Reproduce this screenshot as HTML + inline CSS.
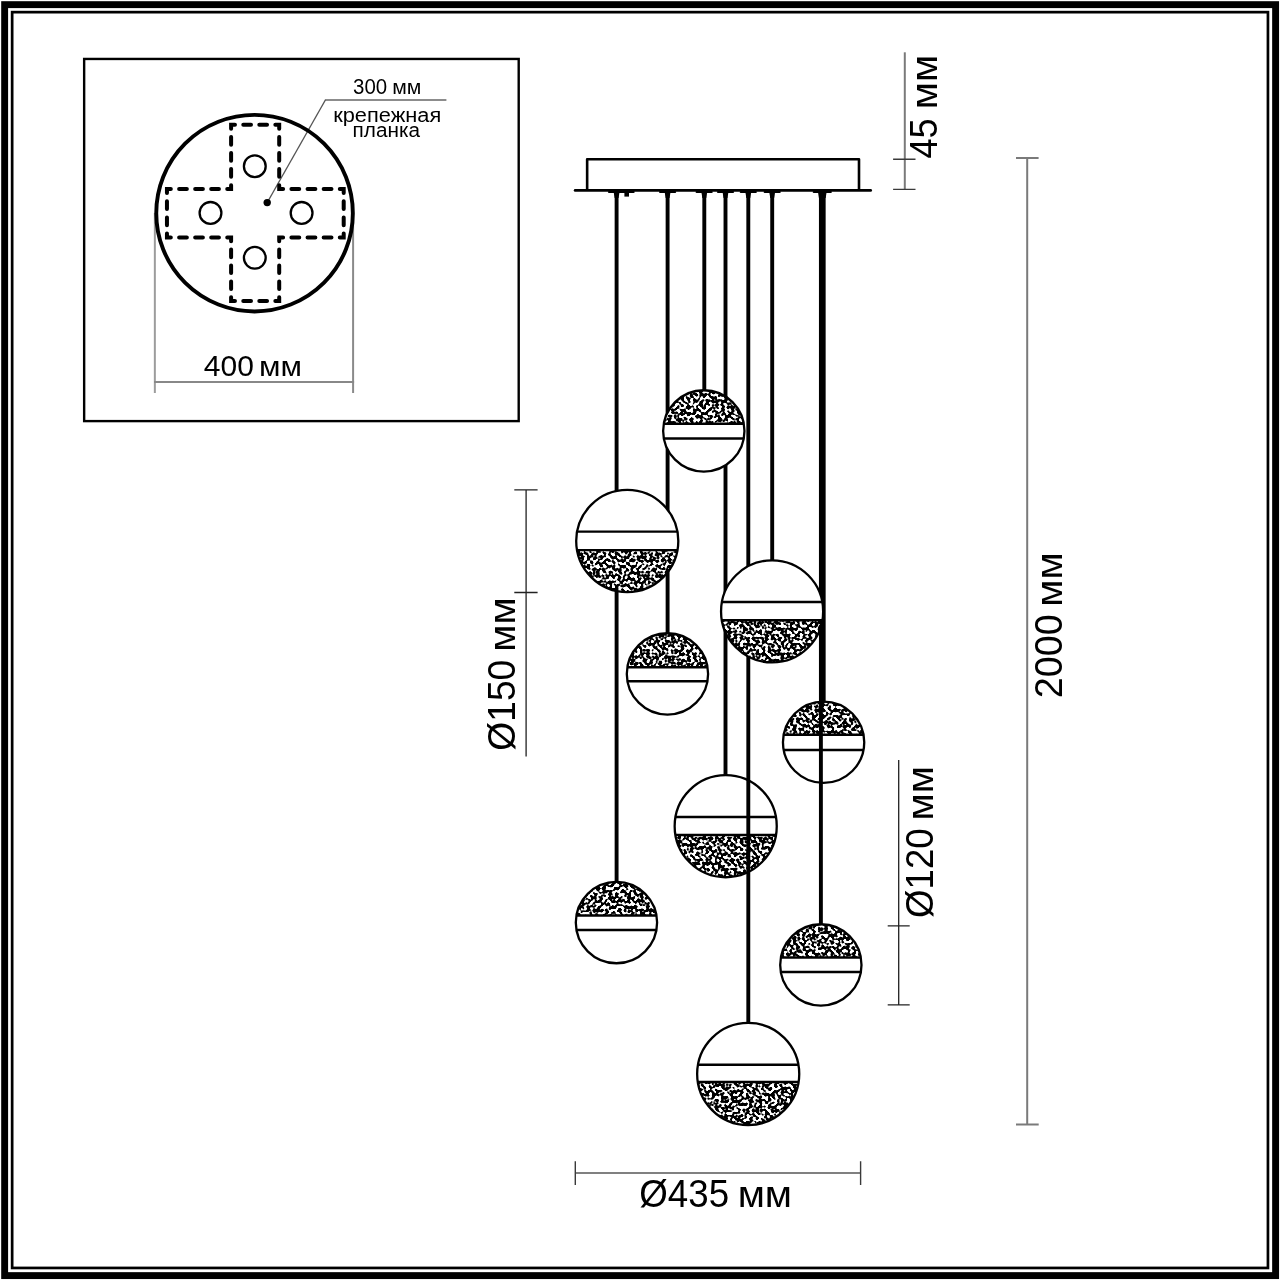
<!DOCTYPE html>
<html lang="ru">
<head>
<meta charset="utf-8">
<title>Схема светильника</title>
<style>
html,body{margin:0;padding:0;background:#fff;}
body{width:1280px;height:1280px;overflow:hidden;}
svg{display:block;will-change:transform;}
text{font-family:"Liberation Sans", "DejaVu Sans", sans-serif;fill:#000;}
</style>
</head>
<body>
<svg width="1280" height="1280" viewBox="0 0 1280 1280" role="img" aria-label="Схема подвесного светильника с размерами">
<defs><filter id="spk" x="0" y="0" width="100%" height="100%" color-interpolation-filters="sRGB"><feTurbulence type="fractalNoise" baseFrequency="0.32" numOctaves="1" seed="7"/><feColorMatrix type="matrix" values="0 0 0 0 0  0 0 0 0 0  0 0 0 0 0  11 0 0 0 -4.8"/></filter></defs>
<rect width="1280" height="1280" fill="#fff"/>
<!-- frame -->
<rect x="4.65" y="4.65" width="1270.95" height="1270.95" fill="none" stroke="#000" stroke-width="6.9"/>
<rect x="12.15" y="12.15" width="1255.8" height="1255.8" fill="none" stroke="#000" stroke-width="2.7"/>
<!-- inset: mounting plate -->
<rect x="84.15" y="58.95" width="434.55" height="362.15" fill="none" stroke="#000" stroke-width="2.4"/>
<g fill="none" stroke-width="2"><path d="M154.85 213V393" stroke="#9c9c9c"/><path d="M353.1 213V393" stroke="#8a8a8a"/><path d="M154 382H354.1" stroke="#888"/><path d="M325.3 100.05H446.4" stroke="#8c8c8c" stroke-width="1.9"/><path d="M267.2 202.6L325.6 99.6" stroke="#555" stroke-width="1.2"/></g>
<circle cx="254.55" cy="213.15" r="98.3" fill="none" stroke="#000" stroke-width="3.9"/>
<path d="M231.1 128.72L231.1 124.85L234.97 124.85M243.27 124.85L251 124.85M259.3 124.85L267.03 124.85M275.33 124.85L279.2 124.85L279.2 128.72M279.2 137.02L279.2 144.76M279.2 153.06L279.2 160.79M279.2 169.09L279.2 176.83M279.2 185.13L279.2 189L283.11 189M291.41 189L299.24 189M307.54 189L315.36 189M323.66 189L331.49 189M339.79 189L343.7 189L343.7 192.93M343.7 201.23L343.7 209.1M343.7 217.4L343.7 225.27M343.7 233.57L343.7 237.5L339.79 237.5M331.49 237.5L323.66 237.5M315.36 237.5L307.54 237.5M299.24 237.5L291.41 237.5M283.11 237.5L279.2 237.5L279.2 241.3M279.2 249.6L279.2 257.2M279.2 265.5L279.2 273.1M279.2 281.4L279.2 289M279.2 297.3L279.2 301.1L275.33 301.1M267.03 301.1L259.3 301.1M251 301.1L243.27 301.1M234.97 301.1L231.1 301.1L231.1 297.3M231.1 289L231.1 281.4M231.1 273.1L231.1 265.5M231.1 257.2L231.1 249.6M231.1 241.3L231.1 237.5L227.23 237.5M218.93 237.5L211.19 237.5M202.89 237.5L195.16 237.5M186.86 237.5L179.12 237.5M170.82 237.5L166.95 237.5L166.95 233.57M166.95 225.27L166.95 217.4M166.95 209.1L166.95 201.23M166.95 192.93L166.95 189L170.82 189M179.12 189L186.86 189M195.16 189L202.89 189M211.19 189L218.93 189M227.23 189L231.1 189L231.1 185.13M231.1 176.83L231.1 169.09M231.1 160.79L231.1 153.06M231.1 144.76L231.1 137.02" fill="none" stroke="#000" stroke-width="4.0" stroke-linecap="round" stroke-linejoin="miter"/>
<g fill="none" stroke="#000" stroke-width="2.3"><circle cx="254.8" cy="166.2" r="10.9"/><circle cx="210.5" cy="212.9" r="10.9"/><circle cx="301.6" cy="212.9" r="10.9"/><circle cx="254.8" cy="257.8" r="10.9"/></g>
<circle cx="267.2" cy="202.6" r="3.7" fill="#000"/>
<text x="353.08" y="94.3"><tspan font-size="21.2" textLength="34.1" lengthAdjust="spacingAndGlyphs">300</tspan><tspan dx="-0.86" font-size="19.6" textLength="35.05" lengthAdjust="spacingAndGlyphs"> мм</tspan></text>
<text x="333.18" y="121.7" font-size="19.6" textLength="108.04" lengthAdjust="spacingAndGlyphs">крепежная</text>
<text x="352.55" y="136.9" font-size="19.6" textLength="67.43" lengthAdjust="spacingAndGlyphs">планка</text>
<text x="203.8" y="376.2"><tspan font-size="29.5" textLength="50.05" lengthAdjust="spacingAndGlyphs">400</tspan><tspan dx="-3.47" font-size="27.9" textLength="51.64" lengthAdjust="spacingAndGlyphs"> мм</tspan></text>
<!-- canopy -->
<path d="M587.15 190V159.3H859V190" fill="none" stroke="#000" stroke-width="2.6" stroke-linejoin="round"/>
<line x1="575.2" y1="190.4" x2="870.6" y2="190.4" stroke="#000" stroke-width="2.9" stroke-linecap="round"/>
<line x1="609" y1="192" x2="633.6" y2="192" stroke="#000" stroke-width="2.2" stroke-linecap="round"/><line x1="660.1" y1="192" x2="675.1" y2="192" stroke="#000" stroke-width="2.2" stroke-linecap="round"/><line x1="696.65" y1="192" x2="711.65" y2="192" stroke="#000" stroke-width="2.2" stroke-linecap="round"/><line x1="718" y1="192" x2="733" y2="192" stroke="#000" stroke-width="2.2" stroke-linecap="round"/><line x1="740.8" y1="192" x2="755.8" y2="192" stroke="#000" stroke-width="2.2" stroke-linecap="round"/><line x1="764.7" y1="192" x2="779.7" y2="192" stroke="#000" stroke-width="2.2" stroke-linecap="round"/><line x1="813.8" y1="192" x2="830.8" y2="192" stroke="#000" stroke-width="2.2" stroke-linecap="round"/><rect x="624.4" y="192" width="4.6" height="4.6" fill="#000"/><path d="M613.75 192.5H619.45L618.55 198H614.65Z" fill="#000"/><path d="M664.75 192.5H670.45L669.55 198H665.65Z" fill="#000"/><path d="M701.45 192.5H707.15L706.25 198H702.35Z" fill="#000"/><path d="M722.65 192.5H728.35L727.45 198H723.55Z" fill="#000"/><path d="M745.45 192.5H751.15L750.25 198H746.35Z" fill="#000"/><path d="M769.35 192.5H775.05L774.15 198H770.25Z" fill="#000"/><path d="M818.05 192.5H826.55L825.65 198H818.95Z" fill="#000"/>

<!-- pendants -->
<g><clipPath id="cL3"><circle cx="725.7" cy="826.2" r="51.05"/></clipPath><circle cx="725.7" cy="826.2" r="51.05" fill="#fff"/><g clip-path="url(#cL3)"><rect x="672.65" y="835" width="106.1" height="44.25" filter="url(#spk)"/></g><line x1="675.49" y1="817" x2="775.91" y2="817" stroke="#000" stroke-width="2.4"/><line x1="675.41" y1="835" x2="775.99" y2="835" stroke="#000" stroke-width="2.4"/><circle cx="725.7" cy="826.2" r="51.05" fill="none" stroke="#000" stroke-width="2.3"/></g><g><clipPath id="cS3"><circle cx="823.6" cy="742.3" r="40.65"/></clipPath><circle cx="823.6" cy="742.3" r="40.65" fill="#fff"/><g clip-path="url(#cS3)"><rect x="780.95" y="699.65" width="85.3" height="35.15" filter="url(#spk)"/></g><line x1="783.65" y1="734.8" x2="863.55" y2="734.8" stroke="#000" stroke-width="2.4"/><line x1="783.69" y1="750" x2="863.51" y2="750" stroke="#000" stroke-width="2.4"/><circle cx="823.6" cy="742.3" r="40.65" fill="none" stroke="#000" stroke-width="2.3"/></g>
<line x1="616.6" y1="190.4" x2="616.6" y2="881.95" stroke="#000" stroke-width="3.9"/><line x1="667.6" y1="190.4" x2="667.6" y2="633.25" stroke="#000" stroke-width="3.9"/><line x1="704.3" y1="190.4" x2="704.3" y2="390.25" stroke="#000" stroke-width="3.9"/><line x1="725.5" y1="190.4" x2="725.5" y2="775.15" stroke="#000" stroke-width="3.9"/><line x1="748.3" y1="190.4" x2="748.3" y2="1022.95" stroke="#000" stroke-width="3.9"/><line x1="772.2" y1="190.4" x2="772.2" y2="560.35" stroke="#000" stroke-width="3.9"/><line x1="820.9" y1="190.4" x2="820.9" y2="924.25" stroke="#000" stroke-width="3.9"/><line x1="823.7" y1="190.4" x2="823.7" y2="701.65" stroke="#000" stroke-width="3.9"/>
<g><clipPath id="cS1"><circle cx="703.8" cy="430.9" r="40.65"/></clipPath><circle cx="703.8" cy="430.9" r="40.65" fill="#fff"/><g clip-path="url(#cS1)"><rect x="661.15" y="388.25" width="85.3" height="35.5" filter="url(#spk)"/></g><line x1="663.78" y1="423.75" x2="743.82" y2="423.75" stroke="#000" stroke-width="2.4"/><line x1="663.87" y1="438.5" x2="743.73" y2="438.5" stroke="#000" stroke-width="2.4"/><circle cx="703.8" cy="430.9" r="40.65" fill="none" stroke="#000" stroke-width="2.3"/></g>
<g><clipPath id="cL1"><circle cx="627.25" cy="541" r="51.05"/></clipPath><circle cx="627.25" cy="541" r="51.05" fill="#fff"/><g clip-path="url(#cL1)"><rect x="574.2" y="550.1" width="106.1" height="43.95" filter="url(#spk)"/></g><line x1="577.07" y1="531.6" x2="677.43" y2="531.6" stroke="#000" stroke-width="2.4"/><line x1="577.02" y1="550.1" x2="677.48" y2="550.1" stroke="#000" stroke-width="2.4"/><circle cx="627.25" cy="541" r="51.05" fill="none" stroke="#000" stroke-width="2.3"/></g>
<g><clipPath id="cL2"><circle cx="772.1" cy="611.4" r="51.05"/></clipPath><circle cx="772.1" cy="611.4" r="51.05" fill="#fff"/><g clip-path="url(#cL2)"><rect x="719.05" y="620.3" width="106.1" height="44.15" filter="url(#spk)"/></g><line x1="721.92" y1="602" x2="822.28" y2="602" stroke="#000" stroke-width="2.4"/><line x1="721.83" y1="620.3" x2="822.37" y2="620.3" stroke="#000" stroke-width="2.4"/><circle cx="772.1" cy="611.4" r="51.05" fill="none" stroke="#000" stroke-width="2.3"/></g>
<g><clipPath id="cS2"><circle cx="667.45" cy="673.9" r="40.65"/></clipPath><circle cx="667.45" cy="673.9" r="40.65" fill="#fff"/><g clip-path="url(#cS2)"><rect x="624.8" y="631.25" width="85.3" height="35.95" filter="url(#spk)"/></g><line x1="627.36" y1="667.2" x2="707.54" y2="667.2" stroke="#000" stroke-width="2.4"/><line x1="627.46" y1="681.2" x2="707.44" y2="681.2" stroke="#000" stroke-width="2.4"/><circle cx="667.45" cy="673.9" r="40.65" fill="none" stroke="#000" stroke-width="2.3"/></g>
<g><clipPath id="cS4"><circle cx="616.45" cy="922.6" r="40.65"/></clipPath><circle cx="616.45" cy="922.6" r="40.65" fill="#fff"/><g clip-path="url(#cS4)"><rect x="573.8" y="879.95" width="85.3" height="35.55" filter="url(#spk)"/></g><line x1="576.42" y1="915.5" x2="656.48" y2="915.5" stroke="#000" stroke-width="2.4"/><line x1="576.48" y1="930" x2="656.42" y2="930" stroke="#000" stroke-width="2.4"/><circle cx="616.45" cy="922.6" r="40.65" fill="none" stroke="#000" stroke-width="2.3"/></g>
<g><clipPath id="cS5"><circle cx="820.85" cy="964.9" r="40.65"/></clipPath><circle cx="820.85" cy="964.9" r="40.65" fill="#fff"/><g clip-path="url(#cS5)"><rect x="778.2" y="922.25" width="85.3" height="35.25" filter="url(#spk)"/></g><line x1="780.88" y1="957.5" x2="860.82" y2="957.5" stroke="#000" stroke-width="2.4"/><line x1="780.83" y1="972.05" x2="860.87" y2="972.05" stroke="#000" stroke-width="2.4"/><circle cx="820.85" cy="964.9" r="40.65" fill="none" stroke="#000" stroke-width="2.3"/></g>
<g><clipPath id="cL4"><circle cx="748.2" cy="1074" r="51.05"/></clipPath><circle cx="748.2" cy="1074" r="51.05" fill="#fff"/><g clip-path="url(#cL4)"><rect x="695.15" y="1082" width="106.1" height="45.05" filter="url(#spk)"/></g><line x1="698" y1="1064.7" x2="798.4" y2="1064.7" stroke="#000" stroke-width="2.4"/><line x1="697.78" y1="1082" x2="798.62" y2="1082" stroke="#000" stroke-width="2.4"/><circle cx="748.2" cy="1074" r="51.05" fill="none" stroke="#000" stroke-width="2.3"/></g>
<!-- dimensions -->
<g stroke="#7a7a7a" stroke-width="2" fill="none"><path d="M1027.2 157.9V1124.5M1016 157.9H1038.6M1016 1124.5H1038.7"/><path d="M904.8 52.3V189.4"/><path d="M575.3 1173.1H860.6" stroke="#808080"/></g>
<g stroke="#3a3a3a" stroke-width="1.4" fill="none"><path d="M893.1 159.2H915.5M893.1 189.4H915.5"/><path d="M575.3 1161.3V1184.9M860.6 1161.3V1184.9"/></g>
<g stroke="#222" stroke-width="1.3" fill="none"><path d="M526.1 489.9V756.4M514.3 489.9H537.6M514.3 592.5H537.6"/><path d="M898.7 760V1004.8M887.7 925.8H909.7M887.7 1004.8H909.7"/></g>
<text x="639.32" y="1207"><tspan font-size="38.6" textLength="89.8" lengthAdjust="spacingAndGlyphs">Ø435</tspan><tspan dx="-2.46" font-size="36.8" textLength="65.32" lengthAdjust="spacingAndGlyphs"> мм</tspan></text>
<text x="1061.8" y="698.13" transform="rotate(-90 1061.8 698.13)"><tspan font-size="38.6" textLength="83.84" lengthAdjust="spacingAndGlyphs">2000</tspan><tspan dx="-3.32" font-size="36.8" textLength="65.18" lengthAdjust="spacingAndGlyphs"> мм</tspan></text>
<text x="937.4" y="158.52" transform="rotate(-90 937.4 158.52)"><tspan font-size="38.6" textLength="40.25" lengthAdjust="spacingAndGlyphs">45</tspan><tspan dx="-1.98" font-size="36.8" textLength="65.32" lengthAdjust="spacingAndGlyphs"> мм</tspan></text>
<text x="515.3" y="750.7" transform="rotate(-90 515.3 750.7)"><tspan font-size="38.6" textLength="91" lengthAdjust="spacingAndGlyphs">Ø150</tspan><tspan dx="-2.92" font-size="36.8" textLength="65.18" lengthAdjust="spacingAndGlyphs"> мм</tspan></text>
<text x="933.5" y="917.98" transform="rotate(-90 933.5 917.98)"><tspan font-size="38.6" textLength="89.61" lengthAdjust="spacingAndGlyphs">Ø120</tspan><tspan dx="-2.98" font-size="36.8" textLength="65.32" lengthAdjust="spacingAndGlyphs"> мм</tspan></text>
</svg>
</body>
</html>
